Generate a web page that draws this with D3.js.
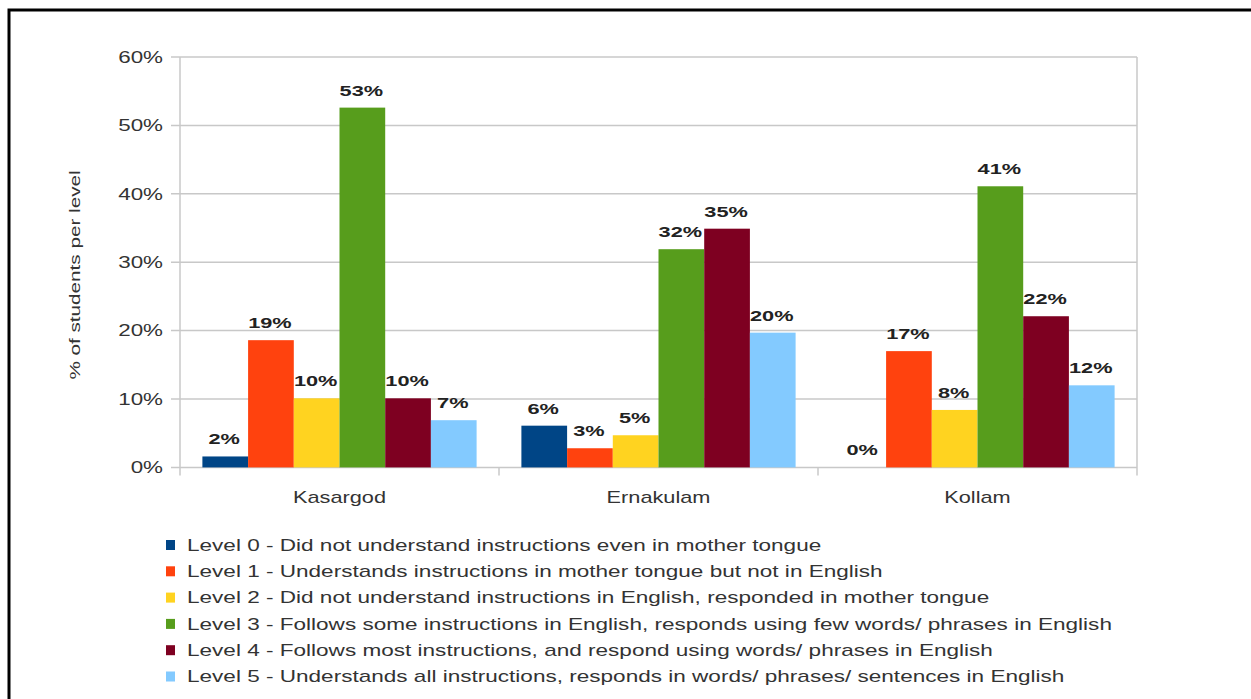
<!DOCTYPE html>
<html><head><meta charset="utf-8">
<script src="https://cdn.jsdelivr.net/npm/d3@7"></script>
<style>body{margin:0;background:#fff;}svg{display:block;font-family:"Liberation Sans",Arial,sans-serif;}</style>
</head><body>
<svg id="c" width="1251" height="699"></svg>
<script>
const categories = ["Kasargod", "Ernakulam", "Kollam"];
const seriesNames = [
  "Level 0 - Did not understand instructions even in mother tongue",
  "Level 1 - Understands instructions in mother tongue but not in English",
  "Level 2 - Did not understand instructions in English, responded in mother tongue",
  "Level 3 - Follows some instructions in English, responds using few words/ phrases in English",
  "Level 4 - Follows most instructions, and respond using words/ phrases in English",
  "Level 5 - Understands all instructions, responds in words/ phrases/ sentences in English"
];
const level0 = [1.6, 6.1, 0];
const level1 = [18.6, 2.8, 17.0];
const level2 = [10.1, 4.7, 8.4];
const level3 = [52.6, 31.9, 41.1];
const level4 = [10.1, 34.9, 22.1];
const level5 = [6.9, 19.7, 12.0];
const yTicks = [0, 10, 20, 30, 40, 50, 60];
const colors = ["#004586", "#ff420e", "#ffd320", "#579d1c", "#7e0021", "#83caff"];

const series = [level0, level1, level2, level3, level4, level5];
const svg = d3.select("#c");

// stretched text helper
function txt(parent, x, y, s, opts) {
  const t = parent.append("text")
    .attr("transform", `translate(${x},${y}) ${opts.rot ? "rotate(" + opts.rot + ")" : ""} scale(${opts.sx},1)`)
    .attr("font-size", opts.size).attr("fill", opts.fill || "#333")
    .attr("text-anchor", opts.anchor || "start").attr("dy", opts.dy || 0)
    .text(s);
  if (opts.bold) t.attr("font-weight", "bold");
  return t;
}

// frame
svg.append("path").attr("d", "M9,699 V10 H1251").attr("fill", "none").attr("stroke", "#000").attr("stroke-width", 3);

const pLeft = 180, pRight = 1137, pTop = 57, pBottom = 467.4;
const x0 = d3.scaleBand().domain(categories).range([pLeft, pRight]).paddingInner(0).paddingOuter(0);
const x1 = d3.scaleBand().domain(d3.range(6)).range([0, x0.bandwidth()]).paddingOuter(0.49).paddingInner(0);
const y = d3.scaleLinear().domain([0, 60]).range([pBottom, pTop]);

// grid
svg.append("g").selectAll("line").data(yTicks).join("line")
  .attr("x1", pLeft - 9).attr("x2", pRight).attr("y1", d => y(d)).attr("y2", d => y(d))
  .attr("stroke", "#c8c8c8").attr("stroke-width", 1.5);
svg.append("line").attr("x1", pLeft).attr("x2", pLeft).attr("y1", pTop).attr("y2", pBottom + 8).attr("stroke", "#c8c8c8").attr("stroke-width", 1.5);
svg.append("line").attr("x1", pRight).attr("x2", pRight).attr("y1", pTop).attr("y2", pBottom + 8).attr("stroke", "#c8c8c8").attr("stroke-width", 1.5);
svg.append("g").selectAll("line").data(categories.slice(1)).join("line")
  .attr("x1", d => x0(d)).attr("x2", d => x0(d)).attr("y1", pBottom).attr("y2", pBottom + 8)
  .attr("stroke", "#c8c8c8").attr("stroke-width", 1.5);

// y tick labels
const yl = svg.append("g");
yTicks.forEach(d => txt(yl, pLeft - 17, y(d), d + "%", {size: 16, sx: 1.4, anchor: "end", dy: "0.36em"}));

// y title
txt(svg, 80, 275, "% of students per level", {size: 15, sx: 1.38, anchor: "middle", rot: -90});

// bars
const g = svg.append("g");
categories.forEach((c, ci) => {
  series.forEach((s, si) => {
    const v = s[ci];
    const bx = x0(c) + x1(si);
    g.append("rect").attr("x", bx).attr("y", y(v)).attr("width", x1.bandwidth())
      .attr("height", pBottom - y(v)).attr("fill", colors[si]);
  });
});
const lbl = svg.append("g");
categories.forEach((c, ci) => {
  series.forEach((s, si) => {
    const v = s[ci];
    const bx = x0(c) + x1(si);
    txt(lbl, bx + x1.bandwidth() / 2 - 1, y(v) - 12, Math.round(v) + "%", {size: 15, sx: 1.45, anchor: "middle", bold: true, fill: "#222"});
  });
});

// category labels
const cl = svg.append("g");
categories.forEach(d => txt(cl, x0(d) + x0.bandwidth() / 2, pBottom + 36, d, {size: 16, sx: 1.36, anchor: "middle"}));

// legend
const lg = svg.append("g");
seriesNames.forEach((n, i) => {
  const ly = 545 + i * 26.3;
  lg.append("rect").attr("x", 166).attr("y", ly - 5).attr("width", 9).attr("height", 10).attr("fill", colors[i]);
  txt(lg, 187, ly, n, {size: 16, sx: 1.41, dy: "0.36em"});
});
</script>
</body></html>
